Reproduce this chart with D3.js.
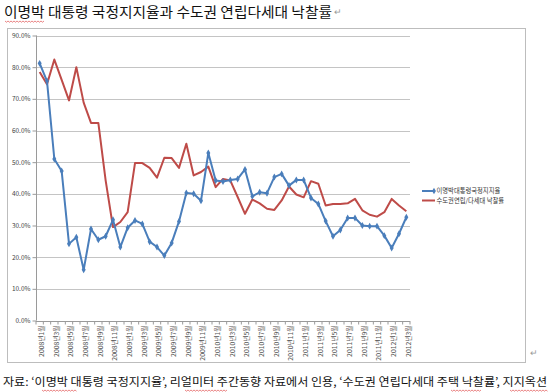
<!DOCTYPE html>
<html><head><meta charset="utf-8">
<script src="https://cdn.jsdelivr.net/npm/d3@7/dist/d3.min.js"></script>
<style>body{margin:0;background:#fff}svg{display:block}</style>
</head><body>
<script>
const months = [];
for (let y = 2008; y <= 2012; y++) for (let m = 1; m <= 12; m++) { if (y === 2012 && m > 3) break; months.push(y + "년" + m + "월"); }
const approval = [81.2,75.6,51.0,47.2,24.2,26.3,16.0,28.9,25.5,26.6,31.8,23.2,29.3,31.6,30.5,24.9,23.2,20.5,24.5,31.3,40.3,40.0,37.8,52.9,44.2,43.9,44.4,44.7,47.7,39.2,40.5,40.2,45.3,46.3,42.6,44.4,44.4,38.7,36.8,31.4,26.6,28.6,32.4,32.4,30.0,29.8,29.8,26.8,22.9,27.4,32.6];
const auction = [78.5,74.6,82.4,76.0,69.5,80.0,68.8,62.4,62.4,44.2,29.5,31.1,34.2,49.7,49.7,48.2,45.1,51.4,51.3,48.2,55.8,45.8,46.9,48.6,42.1,44.7,44.2,39.0,33.7,38.2,37.0,35.3,34.9,37.9,42.3,39.8,38.9,44.0,43.2,36.3,36.8,36.8,37.0,38.4,34.8,33.4,32.8,34.2,38.4,36.3,34.5];
const yTicks = [0,10,20,30,40,50,60,70,80,90];
const seriesNames = ["이명박대통령국정지지율","수도권연립/다세대 낙찰률"];
const titleText = "이명박 대통령 국정지지율과 수도권 연립다세대 낙찰률";
const captionText = "자료: ‘이명박 대통령 국정지지율’, 리얼미터 주간동향 자료에서 인용,  ‘수도권 연립다세대 주택 낙찰률’, 지지옥션";

const W = 550, H = 392;
const FONT = "'Noto Sans CJK KR','Noto Sans',sans-serif";
const svg = d3.select("body").append("svg").attr("width", W).attr("height", H);

function wavy(x0, x1, yy) {
  let d = "M" + x0 + "," + yy;
  for (let xx = x0, k = 0; xx < x1; xx += 1.5, k++) d += "L" + (xx + 1.5) + "," + (yy + (k % 2 ? 0 : 1.2));
  svg.append("path").attr("d", d).attr("fill", "none").attr("stroke", "#e05050").attr("stroke-width", 0.7);
}

// title
svg.append("text").attr("x", 4).attr("y", 17).attr("font-family", FONT).attr("font-size", 13.5).attr("fill", "#111")
  .attr("textLength", 328).attr("lengthAdjust", "spacingAndGlyphs").text(titleText);
svg.append("text").attr("x", 334).attr("y", 15).attr("font-family", FONT).attr("font-size", 9).attr("fill", "#999").text("↵");
wavy(5, 43, 21);

// chart frame
svg.append("rect").attr("x", 7.5).attr("y", 28.5).attr("width", 518).attr("height", 334).attr("fill", "none").attr("stroke", "#bdbdbd");

const x = d3.scaleBand().domain(months).range([36, 410]);
const y = d3.scaleLinear().domain([0, 90]).range([320.5, 35.5]);

// gridlines
svg.append("g").selectAll("line").data(yTicks.filter(d => d > 0)).join("line")
  .attr("x1", 36).attr("x2", 410).attr("y1", d => Math.round(y(d)) + 0.5).attr("y2", d => Math.round(y(d)) + 0.5)
  .attr("stroke", "#c4c4c4").attr("stroke-width", 1);

// y axis
const ya = svg.append("g").attr("transform", "translate(36.5,0)")
  .call(d3.axisLeft(y).tickValues(yTicks).tickSize(4).tickFormat(d => d.toFixed(1) + "%"));
ya.selectAll("path,line").attr("stroke", "#9a9a9a");
ya.selectAll("text").attr("font-family", FONT).attr("font-size", 6.5).attr("fill", "#444").attr("x", -6);
ya.select(".domain").attr("d", "M0," + y(90) + "V" + y(0));

// x axis
const xa = svg.append("g").attr("transform", "translate(0," + (Math.round(y(0)) + 0.5) + ")")
  .call(d3.axisBottom(x).tickValues(months.filter((d, i) => i % 2 === 0)).tickSize(0));
xa.select(".domain").attr("stroke", "#9a9a9a").attr("d", "M36,0H410");
xa.selectAll("text").attr("font-family", FONT).attr("font-size", 6.8).attr("fill", "#555")
  .attr("transform", "rotate(-90)").attr("text-anchor", "end").attr("x", -4).attr("y", 2).attr("dy", "0.35em");
// category boundary ticks
svg.append("g").selectAll("line").data(d3.range(months.length + 1)).join("line")
  .attr("x1", i => 36 + i * x.step()).attr("x2", i => 36 + i * x.step())
  .attr("y1", Math.round(y(0))).attr("y2", Math.round(y(0)) + 3.5).attr("stroke", "#9a9a9a");

const cx = (d, i) => x(months[i]) + x.bandwidth() / 2;
const line = d3.line().x((d, i) => cx(d, i)).y(d => y(d));

svg.append("path").datum(auction).attr("d", line).attr("fill", "none").attr("stroke", "#be4b48").attr("stroke-width", 2).attr("stroke-linejoin", "round");
svg.append("path").datum(approval).attr("d", line).attr("fill", "none").attr("stroke", "#4a7ebb").attr("stroke-width", 2).attr("stroke-linejoin", "round");
svg.append("g").selectAll("path").data(approval).join("path")
  .attr("transform", (d, i) => "translate(" + cx(d, i) + "," + y(d) + ")")
  .attr("d", d3.symbol(d3.symbolDiamond, 14)).attr("fill", "#4a7ebb");

// legend
const lg = svg.append("g");
const colors = ["#4a7ebb", "#be4b48"];
seriesNames.forEach((n, i) => {
  const yy = 191 + i * 9.5;
  lg.append("line").attr("x1", 422).attr("x2", 435).attr("y1", yy).attr("y2", yy).attr("stroke", colors[i]).attr("stroke-width", 2);
  if (i === 0) lg.append("path").attr("transform", "translate(434," + yy + ")").attr("d", d3.symbol(d3.symbolDiamond, 12)).attr("fill", colors[i]);
  lg.append("text").attr("x", 436.5).attr("y", yy).attr("dy", "0.35em").attr("font-family", FONT).attr("font-size", 6.3).attr("fill", "#333").text(n);
});

// page mark
svg.append("text").attr("x", 530).attr("y", 356).attr("font-family", FONT).attr("font-size", 9).attr("fill", "#999").text("↵");

// caption
svg.append("text").attr("x", 3).attr("y", 386).attr("font-family", FONT).attr("font-size", 11.5).attr("fill", "#111")
  .attr("textLength", 544).attr("lengthAdjust", "spacingAndGlyphs").text(captionText);
wavy(42, 76, 390);
wavy(185, 226, 390);
wavy(451, 481, 390);
wavy(510, 547, 390);
</script>
</body></html>
